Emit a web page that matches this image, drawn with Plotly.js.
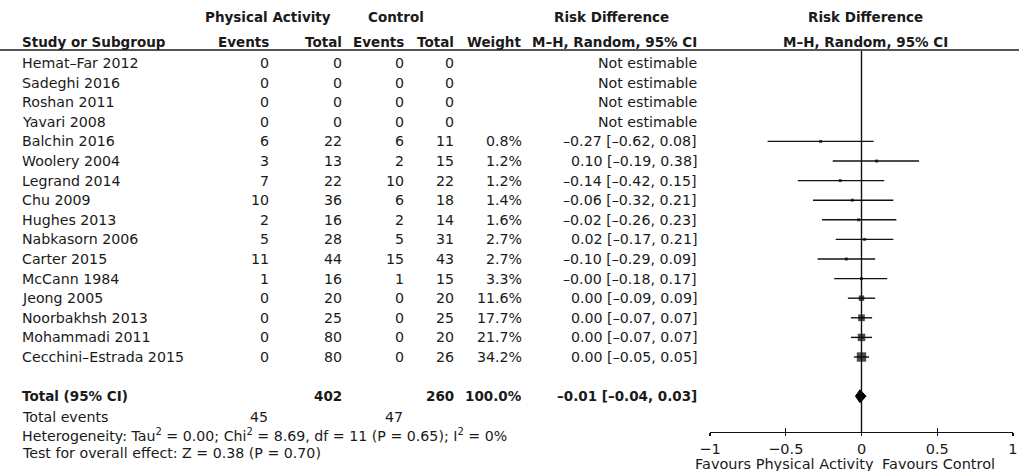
<!DOCTYPE html>
<html>
<head>
<meta charset="utf-8">
<script src="https://cdn.plot.ly/plotly-3.0.1.min.js"></script>
<style>html,body{margin:0;padding:0;background:#fff;}#chart{width:1019px;height:471px;}</style>
</head>
<body>
<div id="chart"></div>
<script>
// ---- data ----
const studies = ["Hemat–Far 2012","Sadeghi 2016","Roshan 2011","Yavari 2008","Balchin 2016","Woolery 2004","Legrand 2014","Chu 2009","Hughes 2013","Nabkasorn 2006","Carter 2015","McCann 1984","Jeong 2005","Noorbakhsh 2013","Mohammadi 2011","Cecchini–Estrada 2015"];
const paEvents = [0,0,0,0,6,3,7,10,2,5,11,1,0,0,0,0];
const paTotal  = [0,0,0,0,22,13,22,36,16,28,44,16,20,25,80,80];
const ctEvents = [0,0,0,0,6,2,10,6,2,5,15,1,0,0,0,0];
const ctTotal  = [0,0,0,0,11,15,22,18,14,31,43,15,20,25,20,26];
const weights  = [null,null,null,null,0.8,1.2,1.2,1.4,1.6,2.7,2.7,3.3,11.6,17.7,21.7,34.2];
const rd       = [null,null,null,null,-0.27,0.10,-0.14,-0.06,-0.02,0.02,-0.10,-0,0.00,0.00,0.00,0.00];
const rdLow    = [null,null,null,null,-0.62,-0.19,-0.42,-0.32,-0.26,-0.17,-0.29,-0.18,-0.09,-0.07,-0.07,-0.05];
const rdHigh   = [null,null,null,null,0.08,0.38,0.15,0.21,0.23,0.21,0.09,0.17,0.09,0.07,0.07,0.05];
const totalPA = 402, totalCT = 260, totalWeight = 100.0;
const totalEventsPA = 45, totalEventsCT = 47;
const pooled = {est:-0.01, low:-0.04, high:0.03};
const tickVals = [-1,-0.5,0,0.5,1];
const tickText = ["−1","−0.5","0","0.5","1"];
const heterogeneity = "Heterogeneity: Tau<sup>2</sup> = 0.00; Chi<sup>2</sup> = 8.69, df = 11 (P = 0.65); I<sup>2</sup> = 0%";
const overall = "Test for overall effect: Z = 0.38 (P = 0.70)";

// ---- layout helpers ----
const W = 1019, H = 471;
const FONT = "DejaVu Sans";
const TXT = "#1a1a1a";
const REG = 14.2, BOLD = 13.5;
const px = x => x / W;
const py = y => 1 - y / H;
const ROW0 = 63, ROWH = 19.6, AXISY = 432;
const fmt = v => ((v < 0 || Object.is(v, -0)) ? "–" : "") + Math.abs(v).toFixed(2);

const ann = [];
function addText(text, x, y, anchor, opts) {
  opts = opts || {};
  ann.push({
    text: text, x: px(x), xref: "paper",
    y: opts.row !== undefined ? opts.row : py(y), yref: opts.row !== undefined ? "y" : "paper",
    xanchor: anchor, yanchor: "middle", showarrow: false,
    font: {family: FONT, size: opts.size || REG, color: TXT},
    borderpad: 0
  });
}
const B = {size: BOLD};

// headers
addText("<b>Physical Activity</b>", 268, 17, "center", B);
addText("<b>Control</b>", 396, 17, "center", B);
addText("<b>Risk Difference</b>", 611, 17, "center", B);
addText("<b>Risk Difference</b>", 865, 17, "center", B);
addText("<b>Study or Subgroup</b>", 21, 42, "left", B);
addText("<b>Events</b>", 270, 42, "right", B);
addText("<b>Total</b>", 343, 42, "right", B);
addText("<b>Events</b>", 405, 42, "right", B);
addText("<b>Total</b>", 455, 42, "right", B);
addText("<b>Weight</b>", 522, 42, "right", B);
addText("<b>M–H, Random, 95% CI</b>", 698, 42, "right", B);
addText("<b>M–H, Random, 95% CI</b>", 865, 42, "center", B);

// study rows
studies.forEach((s, i) => {
  addText(s, 21, 0, "left", {row: i});
  addText(String(paEvents[i]), 270, 0, "right", {row: i});
  addText(String(paTotal[i]), 343, 0, "right", {row: i});
  addText(String(ctEvents[i]), 405, 0, "right", {row: i});
  addText(String(ctTotal[i]), 455, 0, "right", {row: i});
  if (weights[i] === null) {
    addText("Not estimable", 698, 0, "right", {row: i});
  } else {
    addText(weights[i].toFixed(1) + "%", 523, 0, "right", {row: i});
    addText(fmt(rd[i]) + " [" + fmt(rdLow[i]) + ", " + fmt(rdHigh[i]) + "]", 698, 0, "right", {row: i});
  }
});
const totalRow = studies.length + 1;
addText("<b>Total (95% CI)</b>", 21, 0, "left", {row: totalRow, size: BOLD});
addText("<b>" + totalPA + "</b>", 343, 0, "right", {row: totalRow, size: BOLD});
addText("<b>" + totalCT + "</b>", 455, 0, "right", {row: totalRow, size: BOLD});
addText("<b>" + totalWeight.toFixed(1) + "%</b>", 523, 0, "right", {row: totalRow, size: BOLD});
addText("<b>" + fmt(pooled.est) + " [" + fmt(pooled.low) + ", " + fmt(pooled.high) + "]</b>", 698, 0, "right", {row: totalRow, size: BOLD});
addText("Total events", 21, 417, "left");
addText(String(totalEventsPA), 269, 417, "right");
addText(String(totalEventsCT), 404, 417, "right");
addText(heterogeneity, 21, 435, "left");
addText(overall, 21, 453, "left");
addText("Favours Physical Activity", 875, 463.5, "right", {size: 14.5});
addText("Favours Control", 881, 463.5, "left", {size: 14.5});

// ---- traces ----
const xs = [], ys = [], eplus = [], eminus = [], sizes = [];
weights.forEach((w, i) => {
  if (w === null) return;
  xs.push(rd[i]); ys.push(i);
  eplus.push(rdHigh[i] - rd[i]); eminus.push(rd[i] - rdLow[i]);
  sizes.push(Math.max(3, 1.6 * Math.sqrt(w)));
});
const studyTrace = {
  type: "scatter", mode: "markers", x: xs, y: ys, xaxis: "x", yaxis: "y",
  marker: {symbol: "square", size: sizes, color: "#000", line: {width: 0}},
  error_x: {type: "data", symmetric: false, array: eplus, arrayminus: eminus, color: "#111", thickness: 1.4, width: 0},
  hoverinfo: "skip", showlegend: false, cliponaxis: false
};
const dh = 0.33;
const diamond = {
  type: "scatter", mode: "lines", fill: "toself", fillcolor: "#000",
  x: [pooled.low, pooled.est, pooled.high, pooled.est, pooled.low],
  y: [totalRow, totalRow - dh, totalRow, totalRow + dh, totalRow],
  line: {color: "#000", width: 1}, hoverinfo: "skip", showlegend: false, cliponaxis: false
};
const dummy = {type: "scatter", x: [0], y: [null], xaxis: "x2", yaxis: "y", hoverinfo: "skip", showlegend: false, mode: "markers"};

const xdom = [px(710), px(1013)];
const layout = {
  width: W, height: H,
  margin: {l: 0, r: 0, t: 0, b: 0, pad: 0},
  paper_bgcolor: "#fff", plot_bgcolor: "rgba(0,0,0,0)",
  showlegend: false,
  xaxis: {
    domain: xdom, range: [-1.0001, 1.0001], anchor: "y",
    showgrid: false, zeroline: false, showline: true, linecolor: "#111", linewidth: 1.4,
    ticks: "outside", ticklen: 3, tickwidth: 1.3, tickcolor: "#111",
    tickvals: tickVals, ticktext: tickText, ticklabeloverflow: "allow",
    tickfont: {family: FONT, size: 14.5, color: TXT}
  },
  xaxis2: {
    domain: xdom, range: [-1.0001, 1.0001], overlaying: "x", anchor: "y", side: "bottom",
    showgrid: false, zeroline: false, showline: false,
    ticks: "inside", ticklen: 4, tickwidth: 1.3, tickcolor: "#111",
    tickvals: tickVals, showticklabels: false
  },
  yaxis: {
    domain: [1 - AXISY / H, 1],
    range: [(AXISY - ROW0) / ROWH, -ROW0 / ROWH],
    visible: false, showgrid: false, zeroline: false, fixedrange: true
  },
  shapes: [
    {type: "line", xref: "paper", yref: "paper", x0: 0, x1: 1, y0: py(50), y1: py(50), line: {color: "#555", width: 2}},
    {type: "line", xref: "x", yref: "paper", x0: 0, x1: 0, y0: py(AXISY), y1: py(51), line: {color: "#111", width: 1.4}}
  ],
  annotations: ann
};

Plotly.newPlot("chart", [studyTrace, diamond, dummy], layout, {displayModeBar: false, staticPlot: true});
</script>
</body>
</html>
